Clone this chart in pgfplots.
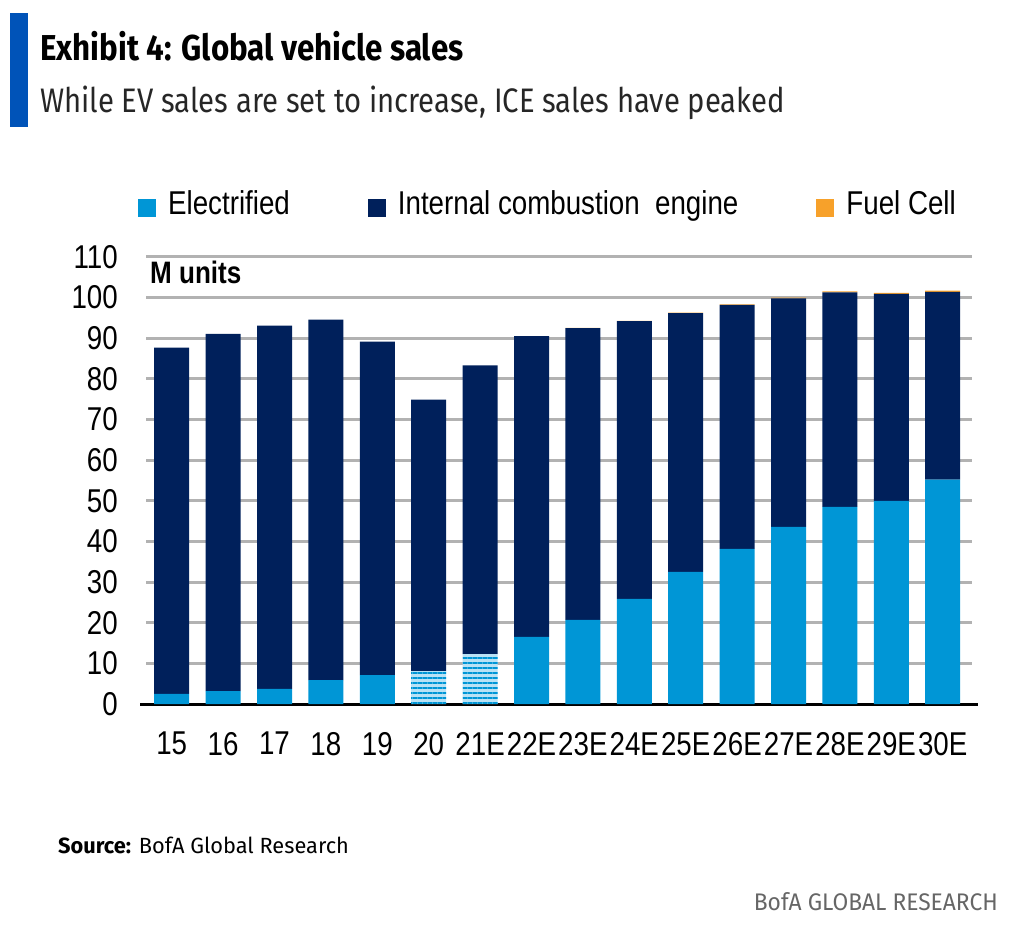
\documentclass[border=0pt]{standalone}
\usepackage{fontspec}
\setmainfont{Liberation Sans}
\newfontfamily\narrow[FakeStretch=0.84]{Liberation Sans}
\newfontfamily\titlef[FakeStretch=0.87]{Fira Sans}
\newfontfamily\subf[FakeStretch=0.86]{Fira Sans}
\newfontfamily\srcf[FakeStretch=0.95]{Fira Sans}
\newfontfamily\srcg[FakeStretch=0.99]{Fira Sans}
\usepackage{pgfplots}
\usepackage{pgfplotstable}
\pgfplotsset{compat=1.18}
\usetikzlibrary{patterns.meta}
\definecolor{elec}{RGB}{0,150,214}
\definecolor{elecl}{RGB}{185,226,245}
\definecolor{ice}{RGB}{0,32,91}
\definecolor{fuel}{RGB}{247,161,42}
\definecolor{bofablue}{RGB}{0,83,184}
\definecolor{gridg}{RGB}{178,178,178}
\pgfplotstableread{
x elec elecs ice fuel
0  2.5 0    85.2 0
1  3.2 0    87.9 0
2  3.7 0    89.4 0
3  5.9 0    88.7 0
4  7.1 0    82.1 0
5  0   8.1  66.8 0
6  0   12.3 71.0 0
7  16.5 0   74.0 0.05
8  20.7 0   71.8 0.05
9  25.9 0   68.3 0.1
10 32.5 0   63.7 0.1
11 38.2 0   60.0 0.15
12 43.6 0   56.2 0.2
13 48.5 0   52.8 0.25
14 50.0 0   50.9 0.3
15 55.2 0   46.2 0.3
}\data
\begin{document}
\begin{tikzpicture}
\path[use as bounding box] (0pt,0pt) rectangle (1024pt,938pt);
\fill[bofablue] (10pt,811pt) rectangle (28pt,925pt);
\node[anchor=base west, inner sep=0pt] at (40pt,877pt) {\titlef\bfseries\fontsize{36}{40}\selectfont Exhibit 4: Global vehicle sales};
\node[anchor=base west, inner sep=0pt, text=black!85] at (40pt,825pt) {\subf\fontsize{34}{38}\selectfont While EV sales are set to increase, ICE sales have peaked};
\node[anchor=base west, inner sep=0pt] at (58pt,85pt) {\srcg\fontsize{22}{26}\selectfont\textbf{Source:} BofA Global Research};
\node[anchor=base east, inner sep=0pt, text=black!60] at (998pt,28pt) {\srcf\fontsize{24}{28}\selectfont BofA GLOBAL RESEARCH};
\node[anchor=west, inner sep=0pt] at (150pt,666pt) {\narrow\bfseries\fontsize{31}{33}\selectfont M units};
\begin{axis}[
  at={(146pt,234pt)}, anchor=south west, scale only axis,
  width=826pt, height=447pt,
  ybar stacked, bar width=35pt,
  xmin=-0.5, xmax=15.57, ymin=0, ymax=110,
  ytick={0,10,...,110},
  xtick={0,...,15},
  xticklabels={15,16,17,18,19,20,21E,22E,23E,24E,25E,26E,27E,28E,29E,30E},
  /pgf/number format/assume math mode=true,
  major tick length=0pt,
  axis lines*=left,
  y axis line style={draw=none},
  x axis line style={black, line width=3pt, shorten <=-6pt, shorten >=-6pt},
  ymajorgrids, major grid style={gridg, line width=3pt},
  ticklabel style={font=\narrow\fontsize{33}{33}\selectfont, inner sep=0pt},
  yticklabel style={anchor=east, xshift=-28pt},
  xticklabel style={anchor=north, yshift=-28pt},
  legend columns=3,
  legend style={at={(-0.0097,1.154)}, anchor=north west, draw=none, fill=none,
    font=\narrow\fontsize{33}{33}\selectfont, inner sep=0pt,
    /tikz/every odd column/.append style={column sep=10pt},
    /tikz/every even column/.append style={column sep=76pt}},
  legend cell align=left,
  legend image code/.code={\fill[#1] (0pt,-14pt) rectangle (18pt,4pt);},
]
\addplot[fill=elec, draw=none] table[x=x,y=elec] {\data};
\addlegendentry{Electrified}
\addplot[fill=elecl, draw=none, forget plot, postaction={pattern={Lines[angle=0,distance=5pt,line width=2.4pt]}, pattern color=elec}] table[x=x,y=elecs] {\data};
\addplot[fill=ice, draw=none] table[x=x,y=ice] {\data};
\addlegendentry{Internal combustion\ \ engine}
\addplot[fill=fuel, draw=none] table[x=x,y=fuel] {\data};
\addlegendentry{Fuel Cell}
\end{axis}
\end{tikzpicture}
\end{document}
